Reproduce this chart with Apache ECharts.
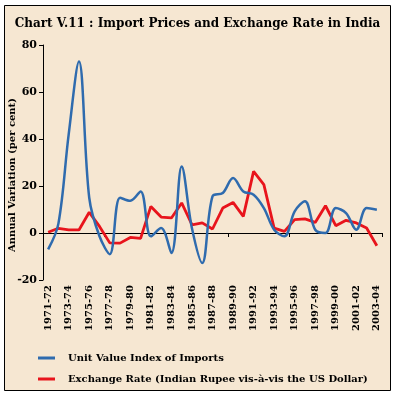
<!DOCTYPE html>
<html>
<head>
<meta charset="utf-8">
<script src="https://cdn.jsdelivr.net/npm/echarts@6/dist/echarts.min.js"></script>
<style>
html,body{margin:0;padding:0;background:#ffffff;}
#c{width:395px;height:397px;}
</style>
</head>
<body>
<div id="c"></div>
<script>
var categories = ['1971-72','1972-73','1973-74','1974-75','1975-76','1976-77','1977-78','1978-79','1979-80','1980-81','1981-82','1982-83','1983-84','1984-85','1985-86','1986-87','1987-88','1988-89','1989-90','1990-91','1991-92','1992-93','1993-94','1994-95','1995-96','1996-97','1997-98','1998-99','1999-00','2000-01','2001-02','2002-03','2003-04'];
var unitValueIndex = [-7, 4, 42, 73, 15, -1.4, -9, 15, 13.7, 17.7, -1.4, 2.1, -8.5, 28.3, 2, -12.8, 15.6, 17, 23.4, 17.7, 16.3, 10.6, 1.4, -1.4, 9.2, 13.5, 1.4, 0, 10.6, 8.5, 1.4, 10.6, 9.9];
var exchangeRate = [0.3, 2, 1.3, 1.3, 8.8, 2.8, -4.2, -4.3, -1.9, -2.3, 11.3, 6.8, 6.4, 12.8, 3.5, 4.3, 1.7, 10.6, 13, 7.1, 26.2, 20.6, 2.1, 0.7, 5.7, 6, 4.5, 11.6, 3.1, 5.4, 4.3, 2.1, -5.4];
var yTicks = [-20, 0, 20, 40, 60, 80];

var FONT = 'DejaVu Serif';
var chart = echarts.init(document.getElementById('c'));
chart.setOption({
  backgroundColor: '#ffffff',
  animation: false,
  graphic: [
    {type: 'rect', z: -10, shape: {x: 4.5, y: 5.5, width: 386, height: 385}, style: {fill: '#F6E7D2', stroke: '#000', lineWidth: 1}},
    {type: 'text', left: 'center', top: 18, style: {text: 'Chart V.11 : Import Prices and Exchange Rate in India', font: 'bold 12px "DejaVu Serif"', fill: '#000'}},
    {type: 'text', x: 7, y: 175, rotation: Math.PI / 2, style: {text: 'Annual Variation (per cent)', font: 'bold 10px "DejaVu Serif"', fill: '#000', align: 'center', verticalAlign: 'top'}}
  ],
  grid: {left: 43, right: 13, top: 45, bottom: 117, containLabel: false},
  legend: {
    orient: 'vertical', left: 33, top: 348, itemGap: 11,
    itemWidth: 17, itemHeight: 3, icon: 'rect',
    textStyle: {fontFamily: FONT, fontWeight: 'bold', fontSize: 10, color: '#000', padding: [0, 0, 0, 8]},
    data: ['Unit Value Index of Imports', 'Exchange Rate (Indian Rupee vis-à-vis the US Dollar)']
  },
  xAxis: [
    {type: 'category', data: categories, boundaryGap: true,
     axisLine: {onZero: true, lineStyle: {color: '#000', width: 1}},
     axisTick: {show: true, length: 4, lineStyle: {color: '#000'}},
     axisLabel: {show: false}, splitLine: {show: false}},
    {type: 'category', data: categories, boundaryGap: true, position: 'bottom',
     axisLine: {show: false, onZero: false}, axisTick: {show: false},
     axisLabel: {show: true, rotate: 90, interval: 1, margin: 5, fontFamily: FONT, fontWeight: 'bold', fontSize: 10, color: '#000'}}
  ],
  yAxis: {
    type: 'value', min: -20, max: 80, interval: 20,
    axisLine: {show: true, lineStyle: {color: '#000'}},
    axisTick: {show: true, length: 4, lineStyle: {color: '#000'}},
    axisLabel: {fontFamily: FONT, fontWeight: 'bold', fontSize: 11, color: '#000', margin: 6,
      formatter: function (v) { return yTicks.indexOf(v) >= 0 ? String(v) : ''; }},
    splitLine: {show: false}
  },
  series: [
    {name: 'Unit Value Index of Imports', type: 'line', data: unitValueIndex, smooth: 0.35, symbol: 'none',
     itemStyle: {color: '#2F6BAE'}, lineStyle: {color: '#2F6BAE', width: 2.5}, z: 3},
    {name: 'Exchange Rate (Indian Rupee vis-à-vis the US Dollar)', type: 'line', data: exchangeRate, smooth: false, symbol: 'none',
     itemStyle: {color: '#E8141C'}, lineStyle: {color: '#E8141C', width: 2.8}, z: 2}
  ]
});
</script>
</body>
</html>
